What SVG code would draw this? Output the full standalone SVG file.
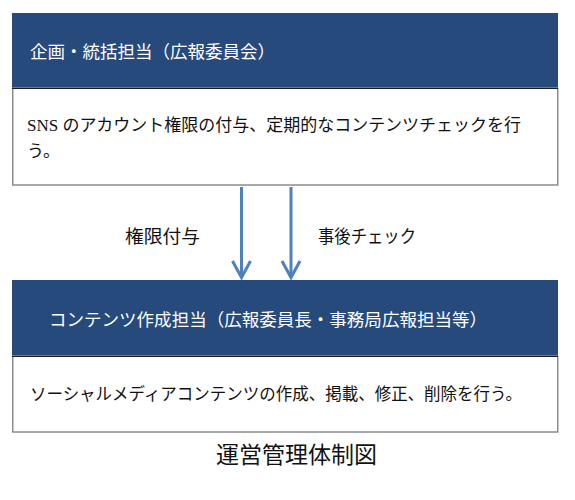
<svg xmlns="http://www.w3.org/2000/svg" width="575" height="500" viewBox="0 0 575 500">
<style>
.hdr{fill:#264a7b;}
.body{fill:#ffffff;stroke:#8c8c8c;stroke-width:1.5;}
.sep{stroke:#1a1a1a;stroke-width:1.2;}
.ht{font-family:"Noto Sans CJK JP","Liberation Sans",sans-serif;font-size:17.5px;fill:#ffffff;}
.bt{font-family:"Liberation Serif","Noto Sans CJK JP",serif;font-size:17px;fill:#111111;}
.lbl{font-family:"Liberation Serif","Noto Sans CJK JP",serif;font-size:18px;fill:#111111;}
.cap{font-family:"Liberation Serif","Noto Sans CJK JP",serif;font-size:23px;fill:#111111;}
.arr{stroke:#4f81bd;stroke-width:3;fill:none;}
</style>
<g id="node-top">
<rect class="hdr" x="12" y="13" width="546" height="75"/>
<rect class="body" x="12.75" y="88" width="545" height="97"/>
<line class="sep" x1="12" y1="88.5" x2="558" y2="88.5"/>
<text class="ht" x="30" y="58" textLength="245" lengthAdjust="spacingAndGlyphs">企画・統括担当（広報委員会）</text>
<text class="bt" x="27" y="131" textLength="494" lengthAdjust="spacingAndGlyphs">SNS のアカウント権限の付与、定期的なコンテンツチェックを行</text>
<text class="bt" x="27" y="157">う。</text>
</g>
<g id="node-bottom">
<rect class="hdr" x="12" y="280" width="546" height="76"/>
<rect class="body" x="12.75" y="356" width="545" height="76"/>
<line class="sep" x1="12" y1="356.5" x2="558" y2="356.5"/>
<text class="ht" x="49" y="326" textLength="438" lengthAdjust="spacingAndGlyphs">コンテンツ作成担当（広報委員長・事務局広報担当等）</text>
<text class="bt" x="30" y="400" textLength="492" lengthAdjust="spacingAndGlyphs">ソーシャルメディアコンテンツの作成、掲載、修正、削除を行う。</text>
</g>
<g id="connectors">
<line class="arr" x1="241.5" y1="187" x2="241.5" y2="277"/>
<polyline class="arr" points="232.5,261 241.5,277.5 250.5,261"/>
<line class="arr" x1="291" y1="187" x2="291" y2="277"/>
<polyline class="arr" points="282,261 291,277.5 300,261"/>
<text class="lbl" x="125" y="243" textLength="75" lengthAdjust="spacingAndGlyphs">権限付与</text>
<text class="lbl" x="318" y="243" textLength="98" lengthAdjust="spacingAndGlyphs">事後チェック</text>
</g>
<g id="caption">
<text class="cap" x="216" y="463" textLength="161" lengthAdjust="spacingAndGlyphs">運営管理体制図</text>
</g>
</svg>
